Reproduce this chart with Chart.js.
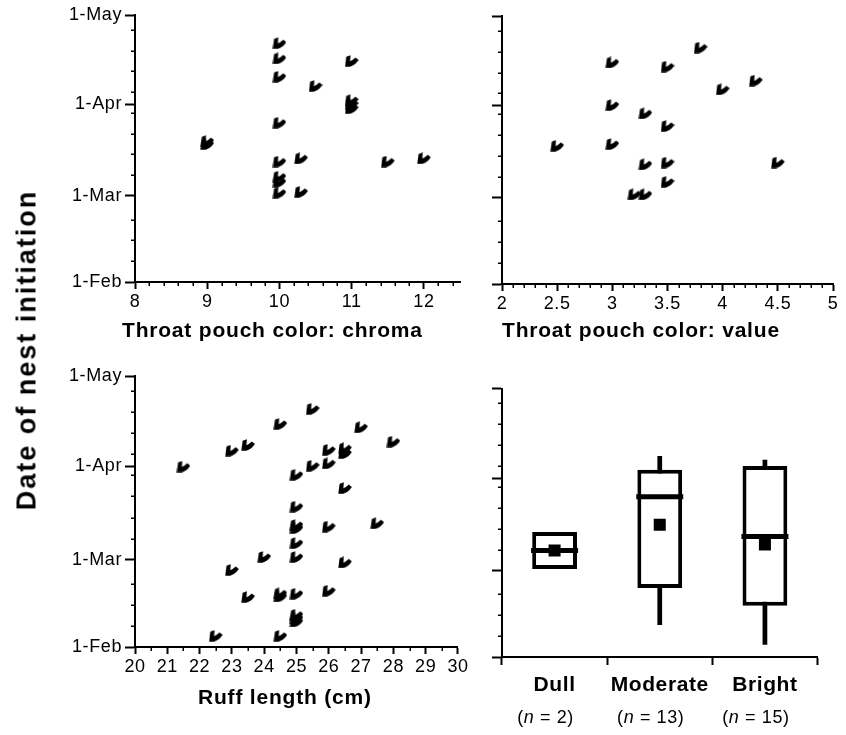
<!DOCTYPE html>
<html>
<head>
<meta charset="utf-8">
<script src="https://cdn.jsdelivr.net/npm/chart.js@4.4.1/dist/chart.umd.min.js"></script>
<style>
  body { margin: 0; background: #fff; width: 846px; height: 735px; position: relative; overflow: hidden;
         font-family: "Liberation Sans", Arial, sans-serif; }
  canvas { position: absolute; }
  .title { position: absolute; font-weight: bold; font-size: 21px; letter-spacing: 0.8px;
           line-height: 22px; white-space: nowrap; }
  #ytitle { position: absolute; left: 27px; top: 350px; font-weight: bold; font-size: 27px;
            letter-spacing: 2px; white-space: nowrap; transform: translate(-50%, -50%) rotate(-90deg); }
</style>
</head>
<body>
<canvas id="c1" width="470" height="345" style="left:0;top:0"></canvas>
<canvas id="c2" width="406" height="345" style="left:440px;top:0"></canvas>
<canvas id="c3" width="470" height="375" style="left:0;top:360px"></canvas>
<canvas id="c4" width="406" height="375" style="left:440px;top:360px"></canvas>

<div id="ytitle">Date of nest initiation</div>
<div class="title" style="left:122px;top:319px">Throat pouch color: chroma</div>
<div class="title" style="left:502px;top:319px">Throat pouch color: value</div>
<div class="title" style="left:198px;top:686px">Ruff length (cm)</div>

<script>
// days counted from 1 Feb
const monthDays = [0, 29, 60, 90];
const monthLabels = ["1-Feb", "1-Mar", "1-Apr", "1-May"];
const weekDays = [7, 14, 21, 36, 43, 50, 57, 64, 71, 78, 85];

// throat pouch chroma
const chromaTicks = [8, 9, 10, 11, 12];
const chromaX = [9, 9, 10, 10, 10, 10, 10, 10, 10, 10, 10.3, 10.3, 10.5, 11, 11, 11, 11, 11.5, 12];
const chromaDay = [46.5, 47.5, 80.5, 75.4, 69.2, 53.7, 40.6, 35.5, 33.8, 30.1, 41.7, 30.4, 66.1, 74.5, 61.3, 60, 58.6, 40.6, 41.7];

// throat pouch value
const valueTicks = [2, 2.5, 3, 3.5, 4, 4.5, 5];
const valueX = [2.5, 3, 3, 3, 3.3, 3.3, 3.2, 3.3, 3.5, 3.5, 3.5, 3.5, 3.8, 4, 4.3, 4.5];
const valueDay = [46.4, 74.4, 60.1, 47.0, 57.3, 40.2, 30.1, 30.1, 73.0, 53.1, 40.8, 34.3, 79.4, 65.4, 68.3, 40.8];

// ruff length
const ruffTicks = [20, 21, 22, 23, 24, 25, 26, 27, 28, 29, 30];
const ruffX = [25.5, 24.5, 27, 28, 23.5, 23, 21.5, 26, 26, 26.5, 26.5, 25.5, 25, 26.5, 25, 25, 25, 26, 27.5,
               25, 25, 24, 26.5, 23, 23.5, 24.5, 24.5, 25, 26, 25, 25, 25, 22.5, 24.5];
const ruffDay = [79.1, 74.1, 73.0, 68.2, 67.1, 65.2, 59.9, 65.5, 61.0, 66.0, 64.4, 60.2, 57.2, 52.8, 46.6, 40.5, 39.5, 40.0, 41.1,
                 34.5, 29.9, 29.9, 28.1, 25.6, 16.6, 17.8, 16.8, 17.7, 18.7, 10.7, 9.6, 8.5, 3.7, 3.7];

// box plot by ruff brightness
const groups = ["Dull", "Moderate", "Bright"];
const groupN = [2, 13, 15];
const boxLow = [29.5, 23.1, 17.2];
const boxHigh = [41.9, 62.8, 64.0];
const whiskerLow = [null, 10.7, 4.1];
const whiskerHigh = [null, 67.4, 66.1];
const medians = [35.7, 53.7, 40.4];
const means = [35.7, 44.3, 37.7];

Chart.defaults.font.family = "'Liberation Sans', Arial, sans-serif";
Chart.defaults.color = "#000";
Chart.defaults.animation = false;
Chart.defaults.events = [];
Chart.defaults.plugins.legend.display = false;
Chart.defaults.plugins.tooltip.enabled = false;

function range(a, b, step) {
  const out = [];
  for (let v = a; v <= b + 1e-9; v += step) out.push(Math.round(v * 100) / 100);
  return out;
}

// the little arrowhead marker used in the scatter plots
function makeMarker() {
  const c = document.createElement("canvas");
  c.width = 14;
  c.height = 12;
  const g = c.getContext("2d");
  g.fillStyle = "#000";
  g.beginPath();
  g.moveTo(0.3, 11.7);
  g.lineTo(1.6, 1.8);
  g.lineTo(5.8, 0.3);
  g.lineTo(5.4, 6.2);
  g.quadraticCurveTo(8.2, 5.2, 10.8, 2.6);
  g.lineTo(13.9, 5.0);
  g.quadraticCurveTo(10, 10.6, 5.2, 11.7);
  g.closePath();
  g.fill();
  return c;
}
const marker = makeMarker();

const spacing = {
  id: "spacing",
  beforeDraw(chart) { chart.ctx.letterSpacing = "0.6px"; }
};

// short minor ticks drawn from the chart's own scales
const minorTicks = {
  id: "minorTicks",
  afterDraw(chart, args, opts) {
    const ctx = chart.ctx;
    const xs = chart.scales.x, ys = chart.scales.y;
    ctx.save();
    ctx.strokeStyle = "#000";
    ctx.lineWidth = 1.5;
    ctx.beginPath();
    (opts.y || []).forEach(v => {
      const py = Math.round(ys.getPixelForValue(v)) + 0.25;
      ctx.moveTo(ys.right - 4, py);
      ctx.lineTo(ys.right, py);
    });
    (opts.x || []).forEach(v => {
      const px = Math.round(xs.getPixelForValue(v)) + 0.25;
      ctx.moveTo(px, xs.top);
      ctx.lineTo(px, xs.top + 4);
    });
    ctx.stroke();
    ctx.restore();
  }
};

// "(n = 2)" labels under the box plot categories
const nLabels = {
  id: "nLabels",
  afterDraw(chart) {
    const ctx = chart.ctx;
    const xs = chart.scales.x;
    ctx.save();
    ctx.fillStyle = "#000";
    ctx.textBaseline = "middle";
    ctx.textAlign = "left";
    groups.forEach((g, i) => {
      const parts = [
        ["(", "18px 'Liberation Sans'"],
        ["n", "italic 18px 'Liberation Sans'"],
        [" = " + groupN[i] + ")", "18px 'Liberation Sans'"]
      ];
      let w = 0;
      parts.forEach(p => { ctx.font = p[1]; w += ctx.measureText(p[0]).width; });
      let x = xs.getPixelForValue(i) - 9 - w / 2;
      parts.forEach(p => {
        ctx.font = p[1];
        ctx.fillText(p[0], x, 358);
        x += ctx.measureText(p[0]).width;
      });
    });
    ctx.restore();
  }
};

function dayAxis(width, showLabels) {
  return {
    type: "linear",
    min: 0,
    max: 90,
    afterFit: s => { s.width = width; },
    afterBuildTicks: s => { s.ticks = monthDays.map(v => ({ value: v })); },
    ticks: {
      display: showLabels,
      padding: 3,
      font: { size: 18 },
      callback: v => monthLabels[monthDays.indexOf(v)]
    },
    grid: { drawOnChartArea: false, tickLength: 10, tickWidth: 2, tickColor: "#000" },
    border: { color: "#000", width: 2 }
  };
}

function valueAxis(min, max, majors, height) {
  return {
    type: "linear",
    min: min,
    max: max,
    afterFit: s => { s.height = height; },
    afterBuildTicks: s => { s.ticks = majors.map(v => ({ value: v })); },
    ticks: { padding: 2, font: { size: 18 }, autoSkip: false, maxRotation: 0, callback: v => String(v) },
    grid: { drawOnChartArea: false, tickLength: 7, tickWidth: 2, tickColor: "#000" },
    border: { color: "#000", width: 2 }
  };
}

function scatterPanel(id, xs, ys, xAxis, yAxis, padding, minorX) {
  new Chart(document.getElementById(id), {
    type: "scatter",
    data: {
      datasets: [{
        data: xs.map((x, i) => ({ x: x, y: ys[i] })),
        pointStyle: marker,
        pointRadius: 6
      }]
    },
    options: {
      responsive: false,
      layout: { padding: padding },
      scales: { x: xAxis, y: yAxis },
      plugins: { minorTicks: { x: minorX, y: weekDays } }
    },
    plugins: [spacing, minorTicks]
  });
}

scatterPanel("c1", chromaX, chromaDay,
  valueAxis(8, 12.5, chromaTicks, 63), dayAxis(135, true),
  { top: 15, right: 10, bottom: 0, left: 0 },
  range(8, 12.4, 0.2).filter(v => !chromaTicks.includes(v)));

scatterPanel("c2", valueX, valueDay,
  valueAxis(2, 5, valueTicks, 61), dayAxis(62, false),
  { top: 16, right: 13, bottom: 0, left: 0 },
  range(2, 5, 0.1).filter(v => !valueTicks.includes(v)));

scatterPanel("c3", ruffX, ruffDay,
  valueAxis(20, 30, ruffTicks, 88), dayAxis(135, true),
  { top: 16, right: 12, bottom: 0, left: 0 },
  range(20, 30, 0.5).filter(v => !ruffTicks.includes(v)));

new Chart(document.getElementById("c4"), {
  type: "bar",
  data: {
    labels: groups,
    datasets: [
      {
        type: "line",
        data: means,
        showLine: false,
        pointStyle: "rect",
        pointRadius: 8.5,
        pointBackgroundColor: "#000",
        pointBorderWidth: 0,
        order: 1
      },
      {
        type: "line",
        data: medians,
        showLine: false,
        pointStyle: "line",
        pointRadius: 23.5,
        borderColor: "#000",
        pointBorderColor: "#000",
        pointBorderWidth: 5,
        order: 2
      },
      {
        data: groups.map((g, i) => [boxLow[i], boxHigh[i]]),
        backgroundColor: "#fff",
        borderColor: "#000",
        borderWidth: 4,
        borderSkipped: false,
        grouped: false,
        categoryPercentage: 1,
        barPercentage: 0.426,
        order: 3
      },
      {
        data: groups.map((g, i) => whiskerLow[i] == null ? null : [whiskerLow[i], whiskerHigh[i]]),
        backgroundColor: "#000",
        borderWidth: 0,
        grouped: false,
        categoryPercentage: 1,
        barPercentage: 0.045,
        order: 4
      }
    ]
  },
  options: {
    responsive: false,
    layout: { padding: { top: 23, right: 13, bottom: 0, left: 0 } },
    scales: {
      x: {
        type: "category",
        offset: true,
        afterFit: s => { s.height = 78; },
        ticks: { padding: 8, font: { size: 21, weight: "bold" }, maxRotation: 0 },
        grid: { offset: true, drawOnChartArea: false, tickLength: 8, tickWidth: 2, tickColor: "#000" },
        border: { color: "#000", width: 2 }
      },
      y: dayAxis(62, false)
    },
    plugins: { minorTicks: { y: weekDays } }
  },
  plugins: [spacing, minorTicks, nLabels]
});
</script>
</body>
</html>
